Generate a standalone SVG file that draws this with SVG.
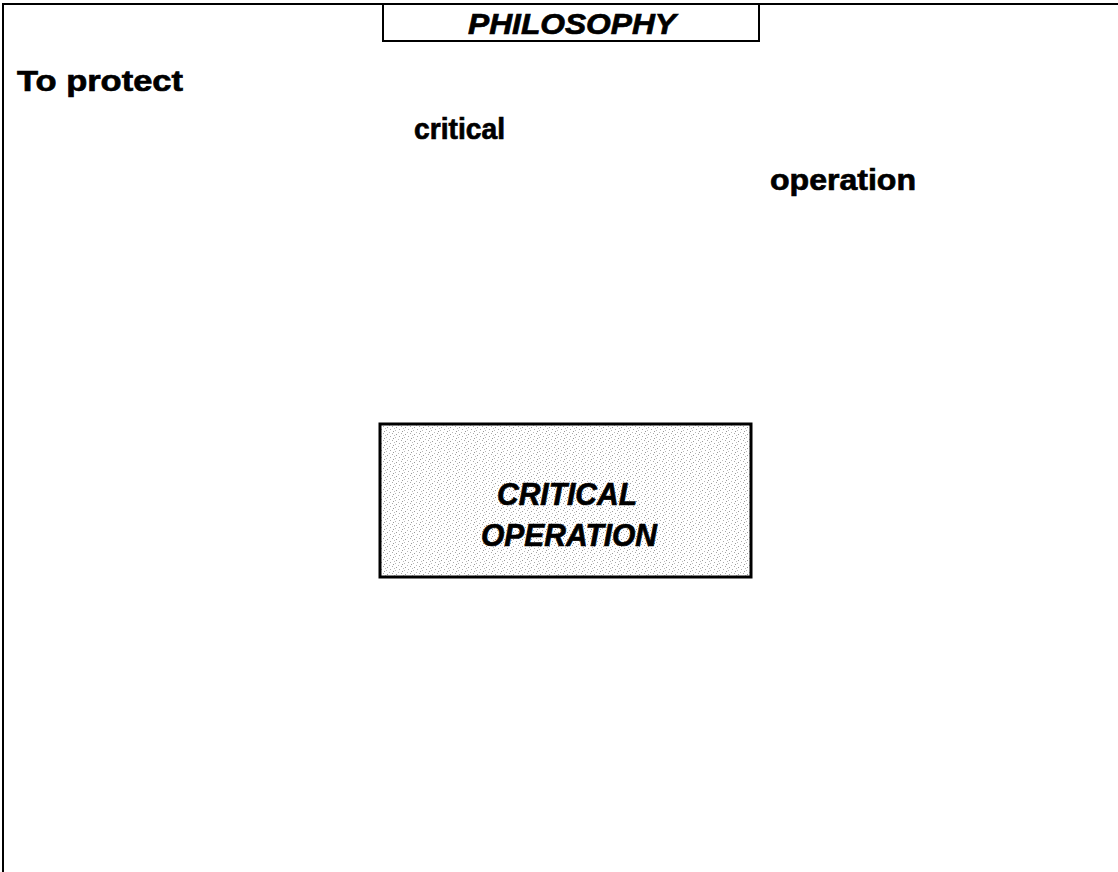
<svg xmlns="http://www.w3.org/2000/svg" width="1118" height="872" viewBox="0 0 1118 872">
<style>
.t{font-family:"Liberation Sans",Arial,Helvetica,sans-serif;font-weight:bold;fill:#000;stroke:#000;stroke-width:0.7}
.bi{font-style:italic}
.frame{fill:none;stroke:#000;stroke-width:2}
</style>
<defs>
<pattern id="stip" width="9" height="7" patternUnits="userSpaceOnUse">
<rect width="9" height="7" fill="#fff"/>
<rect x="0" y="0" width="1" height="1" fill="#999"/>
<rect x="3" y="2" width="1" height="1" fill="#aaa"/>
<rect x="6" y="4" width="1" height="1" fill="#999"/>
<rect x="2" y="5" width="1" height="1" fill="#bbb"/>
<rect x="7" y="1" width="1" height="1" fill="#bbb"/>
<rect x="5" y="6" width="1" height="1" fill="#aaa"/>
<rect x="8" y="3" width="1" height="1" fill="#bbb"/>
</pattern>
</defs>
<rect width="1118" height="872" fill="#fff"/>
<g id="frame">
<path class="frame" d="M3,872 V4 H1118"/>
</g>
<g id="title">
<rect x="383" y="4" width="376" height="37" fill="#fff" stroke="#000" stroke-width="2"/>
<text class="t bi" x="572" y="34" font-size="29" text-anchor="middle" textLength="208" lengthAdjust="spacingAndGlyphs">PHILOSOPHY</text>
</g>
<g id="words">
<text class="t" x="17" y="91" font-size="30" textLength="166" lengthAdjust="spacingAndGlyphs">To protect</text>
<text class="t" x="414" y="139" font-size="30" textLength="91" lengthAdjust="spacingAndGlyphs">critical</text>
<text class="t" x="770" y="190" font-size="30" textLength="146" lengthAdjust="spacingAndGlyphs">operation</text>
</g>
<g id="critical-operation">
<rect x="380" y="424" width="371" height="153" fill="url(#stip)" stroke="#000" stroke-width="3"/>
<text class="t bi" x="567" y="505" font-size="32" text-anchor="middle" textLength="140" lengthAdjust="spacingAndGlyphs">CRITICAL</text>
<text class="t bi" x="569" y="546" font-size="32" text-anchor="middle" textLength="176" lengthAdjust="spacingAndGlyphs">OPERATION</text>
</g>
<g id="connectors"></g>
</svg>
